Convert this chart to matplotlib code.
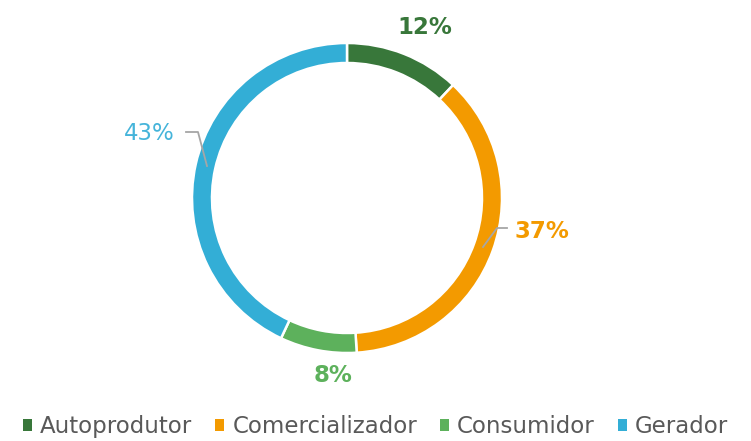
import matplotlib.pyplot as plt
from matplotlib.patches import Patch

categories = ["Autoprodutor", "Comercializador", "Consumidor", "Gerador"]
shares = [12, 37, 8, 43]
colors = ["#38773a", "#f39a00", "#5db15c", "#33aed6"]
label_colors = ["#38773a", "#f39a00", "#5db15c", "#45b4da"]
label_weights = ["bold", "bold", "bold", "normal"]

fig = plt.figure(figsize=(7.51, 4.41), dpi=100)
ax = fig.add_axes([0, 0, 1, 1])

cx, cy, r = 347, 243, 155
ax.pie(shares, colors=colors, startangle=90, counterclock=False,
       center=(cx, cy), radius=r,
       wedgeprops=dict(width=20, edgecolor="white", linewidth=1.8))
ax.set_xlim(0, 751)
ax.set_ylim(0, 441)
ax.set_aspect("equal")
ax.axis("off")

# percentage labels
label_pos = [(425, 413), (542, 210), (333, 66), (149, 308)]
for s, (x, y), c, w in zip(shares, label_pos, label_colors, label_weights):
    ax.text(x, y, f"{s}%", color=c, fontsize=16.5, fontweight=w,
            ha="center", va="center")

# leader lines
ax.plot([483, 497, 507], [194, 213, 213], color="#a6a6a6", lw=1.3)
ax.plot([186, 198, 207], [309, 309, 275], color="#a6a6a6", lw=1.3)

handles = [Patch(facecolor=c, label=n) for c, n in zip(colors, categories)]
fig.legend(handles=handles, loc="lower center", bbox_to_anchor=(0.5, -0.04),
           ncol=4, frameon=False, fontsize=16.5, labelcolor="#595959",
           handlelength=0.4, handleheight=0.4, handletextpad=0.35,
           columnspacing=1.0)

fig.savefig("out.png", dpi=100)
